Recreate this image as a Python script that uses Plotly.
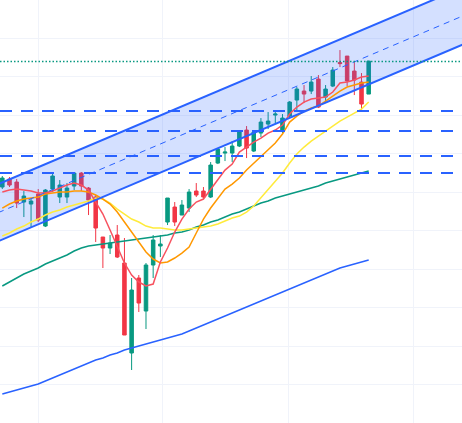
import pandas as pd
import plotly.graph_objects as go

# weekly candles
dates = pd.date_range("2023-11-27", periods=52, freq="7D")

opens = [613.6, 634.4, 626.6, 574.6, 569.4, 595.4, 512.2, 608.4, 587.6, 587.6,
         616.2, 650.0, 611.0, 587.6, 483.6, 455.0, 488.8, 416.0, 182.0, 377.0,
         291.2, 410.8, 460.2, 522.6, 561.6, 540.8, 559.0, 603.2, 603.2, 587.6,
         676.0, 702.0, 702.0, 720.2, 761.8, 707.2, 754.0, 777.4, 800.8, 759.2,
         798.2, 839.8, 863.2, 863.2, 894.4, 847.6, 876.2, 937.3, 954.2, 915.2,
         886.6, 855.4]
highs = [642.2, 639.6, 634.4, 603.2, 585.0, 608.4, 608.4, 650.0, 631.8, 624.0,
         652.6, 652.6, 613.6, 592.8, 483.6, 488.8, 514.8, 481.0, 377.0, 384.8,
         416.0, 488.8, 488.8, 585.0, 574.6, 579.8, 608.4, 624.0, 613.6, 678.6,
         715.0, 717.6, 733.2, 761.8, 772.2, 761.8, 793.0, 808.6, 808.6, 803.4,
         837.2, 873.6, 878.8, 902.2, 904.8, 878.8, 925.6, 969.8, 954.2, 938.6,
         910.0, 941.2]
lows = [608.4, 613.6, 559.0, 535.6, 509.6, 522.6, 509.6, 600.6, 572.0, 572.0,
        605.8, 603.2, 540.8, 470.6, 403.0, 439.4, 429.0, 228.8, 137.8, 288.6,
        244.4, 377.0, 431.6, 514.8, 512.2, 540.8, 548.6, 587.6, 582.4, 585.0,
        673.4, 681.2, 678.6, 717.6, 689.0, 704.6, 743.6, 764.4, 780.0, 754.0,
        793.0, 813.8, 832.0, 855.4, 819.0, 832.0, 873.6, 925.6, 876.2, 852.8,
        811.2, 855.4]
closes = [637.0, 618.8, 572.0, 590.2, 577.2, 527.8, 605.8, 642.2, 618.8, 611.0,
          650.0, 616.2, 579.8, 507.0, 455.0, 468.0, 431.6, 228.8, 345.8, 312.0,
          410.8, 475.8, 465.4, 585.0, 522.6, 566.8, 600.6, 592.8, 587.6, 670.8,
          712.4, 704.6, 720.2, 756.6, 715.0, 756.6, 782.6, 785.2, 803.4, 793.0,
          834.6, 868.4, 855.4, 886.6, 821.6, 868.4, 917.8, 934.7, 889.2, 891.8,
          829.4, 941.2]

ma_fast = [600.6, 605.8, 608.4, 605.8, 603.2, 598.0, 598.0, 603.2, 611.0, 618.8,
           624.0, 618.8, 605.8, 574.6, 543.4, 501.8, 460.2, 416.0, 384.8, 366.6,
           356.2, 361.4, 418.6, 455.0, 496.6, 530.4, 556.4, 574.6, 582.4, 608.4,
           631.8, 657.8, 673.4, 704.6, 717.6, 730.6, 741.0, 754.0, 761.8, 774.8,
           803.4, 821.6, 834.6, 842.4, 845.0, 847.6, 860.6, 884.0, 886.6, 891.8,
           899.6, 902.2]
ma_mid = [559.0, 569.4, 577.2, 582.4, 585.0, 587.6, 595.4, 598.0, 600.6, 600.6,
          603.2, 603.2, 600.6, 592.8, 582.4, 569.4, 548.6, 522.6, 496.6, 470.6,
          444.6, 426.4, 416.0, 418.6, 429.0, 442.0, 457.6, 494.0, 530.4, 559.0,
          582.4, 608.4, 621.4, 637.0, 657.8, 676.0, 694.2, 709.8, 728.0, 751.4,
          782.6, 798.2, 811.2, 819.0, 824.2, 837.2, 850.2, 863.2, 873.6, 878.8,
          884.0, 886.6]
ma_slow = [486.2, 494.0, 504.4, 512.2, 522.6, 530.4, 540.8, 548.6, 553.8, 561.6,
           566.8, 572.0, 577.2, 585.0, 582.4, 572.0, 556.4, 543.4, 530.4, 522.6,
           512.2, 507.0, 507.0, 504.4, 501.8, 501.8, 504.4, 507.0, 509.6, 512.2,
           517.4, 525.2, 533.0, 538.2, 548.6, 564.2, 585.0, 605.8, 629.2, 650.0,
           676.0, 699.4, 717.6, 733.2, 746.2, 759.2, 772.2, 785.2, 795.6, 806.0,
           816.4, 834.6]
ma_long = [356.2, 366.6, 377.0, 387.4, 395.2, 403.0, 413.4, 421.2, 429.0, 436.8,
           447.2, 455.0, 460.2, 462.8, 465.4, 468.0, 470.6, 473.2, 475.8, 478.4,
           481.0, 483.6, 486.2, 488.8, 494.0, 496.6, 501.8, 509.6, 514.8, 522.6,
           527.8, 535.6, 543.4, 548.6, 556.4, 564.2, 572.0, 577.2, 585.0, 590.2,
           595.4, 600.6, 605.8, 611.0, 616.2, 624.0, 629.2, 634.4, 639.6, 644.8,
           650.0, 655.2]
ma_200 = [75.4, 80.6, 85.8, 91.0, 96.2, 101.4, 109.2, 117.0, 124.8, 132.6,
          140.4, 148.2, 156.0, 163.8, 169.0, 176.8, 182.0, 189.8, 195.0, 200.2,
          205.4, 210.6, 215.8, 221.0, 226.2, 231.4, 239.2, 247.0, 254.8, 262.6,
          270.4, 278.2, 286.0, 293.8, 301.6, 309.4, 317.2, 325.0, 332.8, 340.6,
          348.4, 356.2, 364.0, 371.8, 379.6, 387.4, 395.2, 403.0, 408.2, 413.4,
          418.6, 423.8]

# drawings: parallel channel (two anchor points each), horizontal levels
channel_dates = ["2023-11-13", "2025-03-03"]
channel_upper = [610.0, 1147.9]
channel_mid = [535.7, 1073.6]
channel_lower = [461.3, 999.2]
levels = [811.2, 759.2, 694.2, 650.0]
dotted_level = 940.0

BLUE = "#2962FF"
GREEN = "#089981"
RED = "#F23645"

fig = go.Figure()

fig.add_trace(go.Scatter(x=channel_dates, y=channel_lower, mode="lines",
                         line=dict(width=0), hoverinfo="skip"))
fig.add_trace(go.Scatter(x=channel_dates, y=channel_upper, mode="lines",
                         line=dict(width=0), fill="tonexty",
                         fillcolor="rgba(41,98,255,0.2)", hoverinfo="skip"))

fig.add_trace(go.Candlestick(
    x=dates, open=opens, high=highs, low=lows, close=closes,
    increasing=dict(line=dict(color=GREEN, width=1), fillcolor=GREEN),
    decreasing=dict(line=dict(color=RED, width=1), fillcolor=RED),
))

for vals, color in [(ma_200, BLUE), (ma_long, GREEN), (ma_slow, "#FFEB3B"),
                    (ma_mid, "#FF9800"), (ma_fast, "#F7525F")]:
    fig.add_trace(go.Scatter(x=dates, y=vals, mode="lines",
                             line=dict(color=color, width=1.5)))

for y in [channel_upper, channel_lower]:
    fig.add_trace(go.Scatter(x=channel_dates, y=y, mode="lines",
                             line=dict(color=BLUE, width=2)))
fig.add_trace(go.Scatter(x=channel_dates, y=channel_mid, mode="lines",
                         line=dict(color=BLUE, width=1, dash="6px,5px")))

for lv in levels:
    fig.add_hline(y=lv, line=dict(color=BLUE, width=2, dash="12px,9px"))
fig.add_hline(y=dotted_level, line=dict(color=GREEN, width=1.5, dash="1.5px,2px"))

fig.update_layout(
    width=462, height=423,
    margin=dict(l=0, r=0, t=0, b=0),
    showlegend=False,
    plot_bgcolor="white", paper_bgcolor="white",
    hovermode=False,
)
fig.update_xaxes(
    type="date", range=["2023-11-24 18:00", "2025-02-16 22:00"],
    rangeslider_visible=False, showticklabels=False,
    tick0="2024-01-01", dtick="M4",
    showgrid=True, gridcolor="#f0f3fa", zeroline=False,
)
fig.update_yaxes(
    range=[0, 1100], dtick=100, showticklabels=False,
    showgrid=True, gridcolor="#f0f3fa", zeroline=False,
)

# page body has a default 8px margin; drop it so the plot fills the window
fig.write_html("out.html", config={"displayModeBar": False},
               post_script="document.body.style.margin='0';")
